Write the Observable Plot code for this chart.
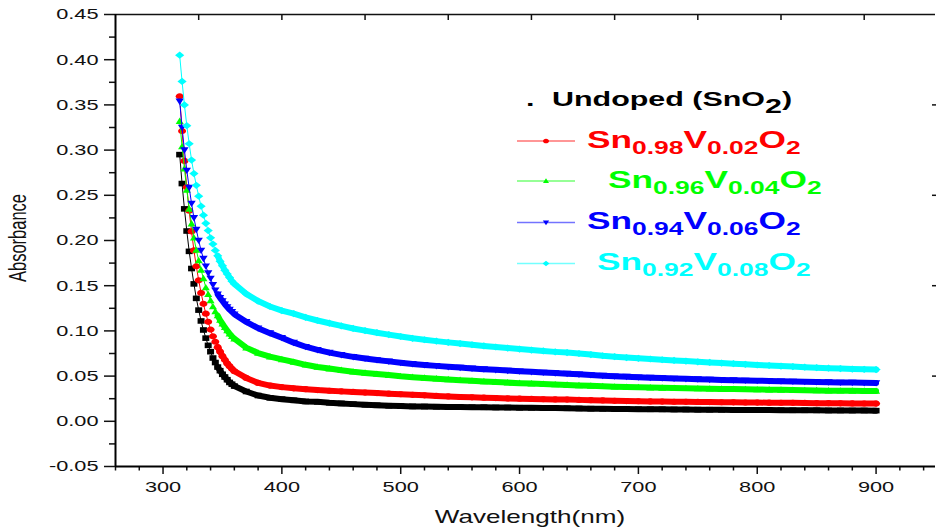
<!DOCTYPE html>
<html><head><meta charset="utf-8">
<script src="https://cdn.jsdelivr.net/npm/d3@7"></script>
<script src="https://cdn.jsdelivr.net/npm/@observablehq/plot@0.6"></script>
<style>
html,body{margin:0;padding:0;background:#fff;}
#chart{position:relative;width:936px;height:530px;overflow:hidden;}
#chart svg{display:block;position:absolute;left:0;top:0;}
</style></head><body><div id="chart"></div>
<script>
// ---- data ----
const wavelength = [
  314,316,318,320,322,324,326,328,330,332,334,336,338,340,342,344,346,348,350,352,354,356,358,360,
  370,380,390,400,
  410,420,430,440,450,460,470,480,490,500,
  510,520,530,540,550,560,570,580,590,600,
  610,620,630,640,650,660,670,680,690,700,
  710,720,730,740,750,760,770,780,790,800,
  810,820,830,840,850,860,870,880,890,900];

const undoped = [
  0.295,0.263,0.235,0.2105,0.188,0.169,0.152,0.136,0.123,0.111,0.101,0.092,0.084,0.077,0.070,0.065,0.060,0.056,0.052,0.049,0.046,0.043,0.041,0.039,
  0.033,0.0285,0.026,0.0245,
  0.0232,0.022,0.0215,0.0205,0.0198,0.019,0.0183,0.0177,0.0172,0.0168,
  0.0165,0.0163,0.0161,0.0159,0.0158,0.0156,0.0155,0.0153,0.0152,0.015,
  0.0149,0.0147,0.0146,0.0144,0.0142,0.014,0.0138,0.0137,0.0136,0.0134,
  0.0133,0.0132,0.0131,0.013,0.0129,0.0128,0.0127,0.0126,0.0125,0.0124,
  0.0124,0.0123,0.0122,0.0122,0.0121,0.012,0.012,0.0119,0.0119,0.0118];

const v002 = [
  0.3595,0.321,0.288,0.259,0.233,0.210,0.189,0.1715,0.156,0.142,0.130,0.119,0.110,0.1015,0.094,0.088,0.082,0.077,0.072,0.068,0.064,0.061,0.058,0.0555,
  0.048,0.0425,0.0395,0.0378,
  0.0365,0.0355,0.0345,0.0338,0.0331,0.0325,0.0318,0.0312,0.0306,0.0299,
  0.0293,0.0287,0.0281,0.0275,0.0269,0.0265,0.0261,0.0257,0.0253,0.025,
  0.0247,0.0244,0.0242,0.024,0.0237,0.0234,0.0231,0.0227,0.0224,0.0222,
  0.022,0.0218,0.0216,0.0215,0.0214,0.0213,0.0211,0.021,0.0208,0.0207,
  0.0206,0.0205,0.0204,0.0203,0.0201,0.02,0.0199,0.0198,0.0197,0.0196];

const v004 = [
  0.332,0.304,0.2795,0.256,0.235,0.2187,0.203,0.1895,0.178,0.1675,0.158,0.148,0.1405,0.1338,0.127,0.1215,0.117,0.112,0.108,0.104,0.1005,0.097,0.094,0.0915,
  0.0815,0.0755,0.0715,0.0685,
  0.0656,0.0625,0.060,0.0583,0.0565,0.0548,0.0535,0.0523,0.0511,0.0498,
  0.0488,0.048,0.0472,0.0463,0.0455,0.0448,0.0441,0.0435,0.0428,0.0422,
  0.0417,0.0412,0.0407,0.0402,0.0397,0.0392,0.0387,0.0382,0.0379,0.0376,
  0.0373,0.037,0.0367,0.0365,0.0363,0.036,0.0358,0.0356,0.0354,0.0352,
  0.035,0.0348,0.0345,0.0343,0.0341,0.0339,0.0338,0.0337,0.0336,0.0335];

const v006 = [
  0.354,0.325,0.300,0.2775,0.2585,0.241,0.225,0.212,0.200,0.189,0.180,0.1715,0.164,0.158,0.151,0.145,0.1405,0.1365,0.133,0.1295,0.1265,0.1235,0.121,0.1185,
  0.110,0.103,0.0975,0.0925,
  0.087,0.0825,0.079,0.076,0.0735,0.0713,0.0695,0.0678,0.0663,0.0648,
  0.0635,0.0624,0.0613,0.0603,0.0594,0.0585,0.0577,0.0569,0.0561,0.0554,
  0.0547,0.054,0.0533,0.0527,0.052,0.0512,0.0505,0.0499,0.0494,0.0488,
  0.0483,0.0478,0.0474,0.047,0.0466,0.0462,0.0458,0.0455,0.0452,0.0449,
  0.0446,0.0443,0.044,0.0438,0.0435,0.0433,0.043,0.0428,0.0426,0.0424];

const v008 = [
  0.405,0.376,0.350,0.327,0.307,0.289,0.274,0.261,0.249,0.238,0.228,0.219,0.211,0.203,0.196,0.189,0.183,0.177,0.172,0.167,0.163,0.159,0.155,0.152,
  0.141,0.133,0.127,0.1225,
  0.119,0.115,0.1115,0.1085,0.1055,0.1027,0.1003,0.098,0.0959,0.0938,
  0.0918,0.0902,0.0887,0.0873,0.086,0.0847,0.0834,0.0822,0.081,0.0799,
  0.0788,0.0778,0.0768,0.076,0.075,0.0738,0.0725,0.0715,0.0705,0.0697,
  0.0689,0.0681,0.0673,0.0666,0.0658,0.0651,0.0644,0.0637,0.063,0.0623,
  0.0617,0.0611,0.0605,0.0599,0.0593,0.0588,0.0583,0.0578,0.0575,0.0572];

const seriesColors = ["#000000", "#ff0000", "#00ff00", "#0000ff", "#00ffff"];
const legendEntries = [
  {parts: [["Sn",0],["0.98",1],["V",0],["0.02",1],["O",0],["2",1]]},
  {parts: [["Sn",0],["0.96",1],["V",0],["0.04",1],["O",0],["2",1]]},
  {parts: [["Sn",0],["0.94",1],["V",0],["0.06",1],["O",0],["2",1]]},
  {parts: [["Sn",0],["0.92",1],["V",0],["0.08",1],["O",0],["2",1]]}
];
const xDomain = [260, 950];
const yDomain = [-0.05, 0.45];
const xMajorTicks = [300, 400, 500, 600, 700, 800, 900];
const xMinorTicks = [260,280,320,340,360,380,420,440,460,480,520,540,560,580,620,640,660,680,720,740,760,780,820,840,860,880,920,940];
const xTopTicks = [330, 400, 470, 540, 610, 680, 750, 820, 890];
const yMajorTicks = [-0.05, 0, 0.05, 0.10, 0.15, 0.20, 0.25, 0.30, 0.35, 0.40, 0.45];
const yMinorTicks = [-0.025, 0.025, 0.075, 0.125, 0.175, 0.225, 0.275, 0.325, 0.375, 0.425];
const yRightTicks = [0.05, 0.15, 0.25, 0.35];
const xTitle = "Wavelength(nm)";
const yTitle = "Absorbance";

// ---- marker shapes (the original picture is horizontally stretched) ----
function poly(pts){return {draw(c){c.moveTo(pts[0][0],pts[0][1]);for(let i=1;i<pts.length;i++)c.lineTo(pts[i][0],pts[i][1]);c.closePath();}};}
function ellipse(rx, ry){const k=0.5523;return {draw(c){
  c.moveTo(rx,0);
  c.bezierCurveTo(rx,ry*k,rx*k,ry,0,ry);
  c.bezierCurveTo(-rx*k,ry,-rx,ry*k,-rx,0);
  c.bezierCurveTo(-rx,-ry*k,-rx*k,-ry,0,-ry);
  c.bezierCurveTo(rx*k,-ry,rx,-ry*k,rx,0);
  c.closePath();}};}
const symbols = [
  poly([[-3.5,-2.8],[3.5,-2.8],[3.5,2.8],[-3.5,2.8]]),
  ellipse(4, 3.1),
  poly([[0,-3.6],[4,2.8],[-4,2.8]]),
  poly([[0,3.6],[4.2,-2.8],[-4.2,-2.8]]),
  poly([[0,-3.6],[4.6,0],[0,3.6],[-4.6,0]])
];

const S = 1.45; // horizontal stretch of text in the reference
const fontFamily = "'Liberation Sans', Arial, sans-serif";

const marks = [];
// frame lines
marks.push(Plot.ruleY([yDomain[1]], {stroke: "#111", strokeWidth: 1.5}));
// data
[undoped, v002, v004, v006, v008].forEach((vals, s) => {
  const data = wavelength.map((w, i) => ({w, a: vals[i]}));
  marks.push(Plot.line(data, {x: "w", y: "a", stroke: seriesColors[s], strokeWidth: 1}));
  marks.push(Plot.line(data.filter(d => d.w >= 346), {x: "w", y: "a", stroke: seriesColors[s], strokeWidth: 6, strokeLinecap: "round", strokeLinejoin: "round"}));
  marks.push(Plot.dot(data, {x: "w", y: "a", symbol: symbols[s], fill: seriesColors[s], stroke: "none", r: 3}));
});
// axes
marks.push(Plot.axisY({anchor: "left", ticks: yMajorTicks, tickSize: 11, tickPadding: 6, tickFormat: d => d.toFixed(2), label: null, fontSize: 15, strokeWidth: 1.5, fill: "#111"}));
marks.push(Plot.axisY({anchor: "left", ticks: yMinorTicks, tickSize: 6, tickFormat: () => "", label: null, strokeWidth: 1.5}));
marks.push(Plot.axisY({anchor: "right", ticks: yRightTicks, tickSize: -4, tickFormat: () => "", label: null, strokeWidth: 1.5}));
marks.push(Plot.axisX({anchor: "bottom", ticks: xMajorTicks, tickSize: 8, tickPadding: 7, tickFormat: d => String(d), label: null, fontSize: 15, strokeWidth: 1.5, fill: "#111"}));
marks.push(Plot.axisX({anchor: "bottom", ticks: xMinorTicks, tickSize: 4.5, tickFormat: () => "", label: null, strokeWidth: 1.5}));
marks.push(Plot.axisX({anchor: "top", ticks: xTopTicks, tickSize: -5, tickFormat: () => "", label: null, strokeWidth: 1.5}));
marks.push(Plot.ruleX([xDomain[0]], {stroke: "#000", strokeWidth: 2}));
marks.push(Plot.ruleY([yDomain[0]], {stroke: "#000", strokeWidth: 2}));

const plot = Plot.plot({
  width: 936, height: 530,
  marginLeft: 115, marginRight: 1, marginTop: 14, marginBottom: 64,
  x: {domain: xDomain},
  y: {domain: yDomain},
  style: {fontFamily, fontSize: "15px", background: "transparent", color: "#111"},
  marks
});
const chart = document.getElementById("chart");
chart.appendChild(plot);

// stretch tick labels horizontally like the reference
plot.querySelectorAll("text").forEach(el => {
  const x = +el.getAttribute("x") || 0, y = +el.getAttribute("y") || 0;
  const t = el.getAttribute("transform") || "";
  el.setAttribute("transform", `${t} translate(${x},${y}) scale(${S},1) translate(${-x},${-y})`);
});

// ---- overlay: axis titles and legend ----
const ov = d3.select(chart).append("svg").attr("width", 936).attr("height", 530)
  .style("font-family", fontFamily).style("pointer-events", "none");

ov.append("text").attr("transform", `translate(530,523) scale(${S},1)`).attr("text-anchor", "middle")
  .attr("font-size", 18).attr("fill", "#111").text(xTitle);
ov.append("text").attr("transform", `translate(26,238) scale(${S},1) rotate(-90)`).attr("text-anchor", "middle")
  .attr("font-size", 16.5).attr("fill", "#111").text(yTitle);

// undoped entry
ov.append("text").attr("transform", `translate(526,106) scale(${S},1)`).attr("font-size", 21).attr("font-weight", "bold").text(".");
const u = ov.append("text").attr("transform", `translate(552,106) scale(${S},1)`).attr("font-size", 21).attr("font-weight", "bold").attr("fill", "#000");
u.append("tspan").text("Undoped (SnO");
u.append("tspan").attr("dy", 7).text("2");
u.append("tspan").attr("dy", -7).text(")");

const legendPos = [
  {ly: 141, tx: 587, ty: 147.5},
  {ly: 181, tx: 608, ty: 188},
  {ly: 222.5, tx: 587, ty: 229},
  {ly: 263.5, tx: 597, ty: 270}
];
legendEntries.forEach((e, i) => {
  const c = seriesColors[i + 1], p = legendPos[i];
  ov.append("line").attr("x1", 517).attr("x2", 575).attr("y1", p.ly).attr("y2", p.ly)
    .attr("stroke", c).attr("stroke-width", 1.5).attr("stroke-opacity", 0.55);
  const path = d3.path(); symbols[i + 1].draw(path);
  ov.append("path").attr("d", path.toString()).attr("fill", c)
    .attr("transform", `translate(546,${p.ly}) scale(0.75)`);
  const t = ov.append("text").attr("transform", `translate(${p.tx},${p.ty}) scale(${S + 0.02},1)`)
    .attr("font-weight", "bold").attr("fill", c);
  let sub = false;
  e.parts.forEach(([str, isSub]) => {
    const ts = t.append("tspan").attr("font-size", isSub ? 18 : 24).text(str);
    if (isSub && !sub) ts.attr("dy", 6);
    if (!isSub && sub) ts.attr("dy", -6);
    sub = !!isSub;
  });
});
</script></body></html>
